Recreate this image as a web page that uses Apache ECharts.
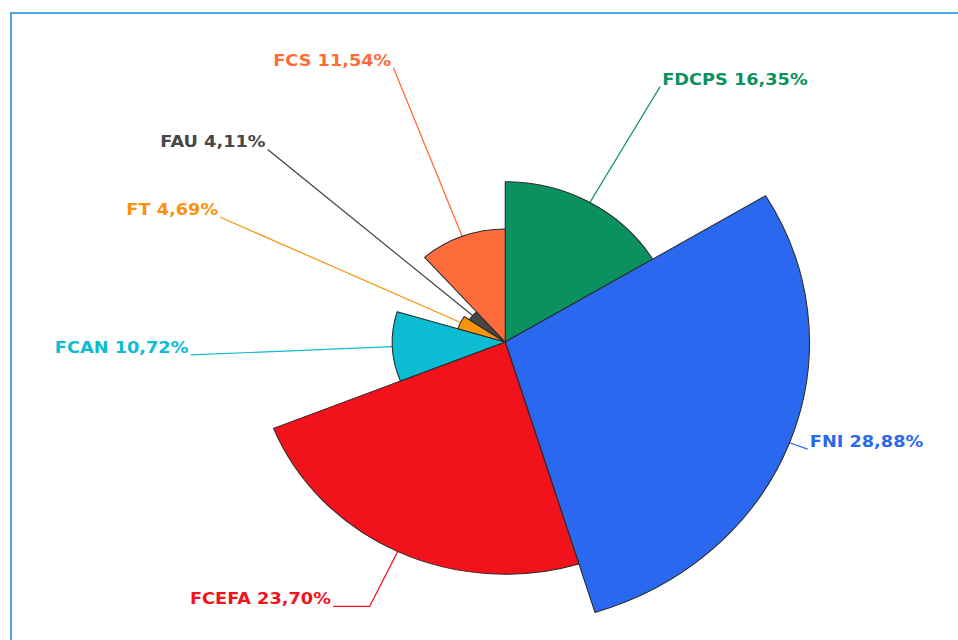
<!DOCTYPE html>
<html>
<head>
<meta charset="utf-8">
<script src="https://cdn.jsdelivr.net/npm/echarts@6/dist/echarts.min.js"></script>
<style>
html,body{margin:0;padding:0;width:958px;height:640px;overflow:hidden;background:#fff;position:relative;}
#frame{position:absolute;left:10px;top:12px;width:980px;height:700px;border:2px solid #4ea5e0;box-sizing:border-box;}
#chart{position:absolute;left:0;top:0;width:891px;height:640px;transform:scaleX(1.075);transform-origin:0 0;}
</style>
</head>
<body>
<div id="frame"></div>
<div id="chart"></div>
<script>
const categories = ['FDCPS', 'FNI', 'FCEFA', 'FCAN', 'FT', 'FAU', 'FCS'];
const values = [16.35, 28.88, 23.70, 10.72, 4.69, 4.11, 11.54];
const colors = ['#0b9160', '#2a69ef', '#f2121c', '#0bbcd3', '#f7930d', '#474747', '#ff6c3b'];

// label-line tweaks for individual slices (style only)
const lineTweaks = {FNI: {length: 18, length2: 0}, FCEFA: {length: 10, length2: 34}};

const chart = echarts.init(document.getElementById('chart'), null, {renderer: 'svg'});
chart.setOption({
  animation: false,
  color: colors,
  series: [{
    type: 'pie',
    roseType: 'radius',
    startAngle: 90,
    clockwise: true,
    center: [470, 342],
    radius: [0, 283],
    data: categories.map((c, i) => {
      const d = {name: c, value: values[i]};
      if (lineTweaks[c]) d.labelLine = lineTweaks[c];
      return d;
    }),
    itemStyle: {borderColor: '#2a2a2a', borderWidth: 1},
    label: {
      show: true,
      position: 'outside',
      color: 'inherit',
      fontFamily: 'DejaVu Sans',
      fontWeight: 'bold',
      fontSize: 16.5,
      distanceToLabelLine: 2,
      formatter: p => '{t|' + p.name + ' ' + p.value.toFixed(2).replace('.', ',') + '%}\n{e|}',
      rich: {
        t: {fontFamily: 'DejaVu Sans', fontWeight: 'bold', fontSize: 16.5, lineHeight: 19},
        e: {fontSize: 10, lineHeight: 16}
      }
    },
    labelLine: {show: true, length: 10, length2: 0, lineStyle: {width: 1.2}}
  }]
});
</script>
</body>
</html>
